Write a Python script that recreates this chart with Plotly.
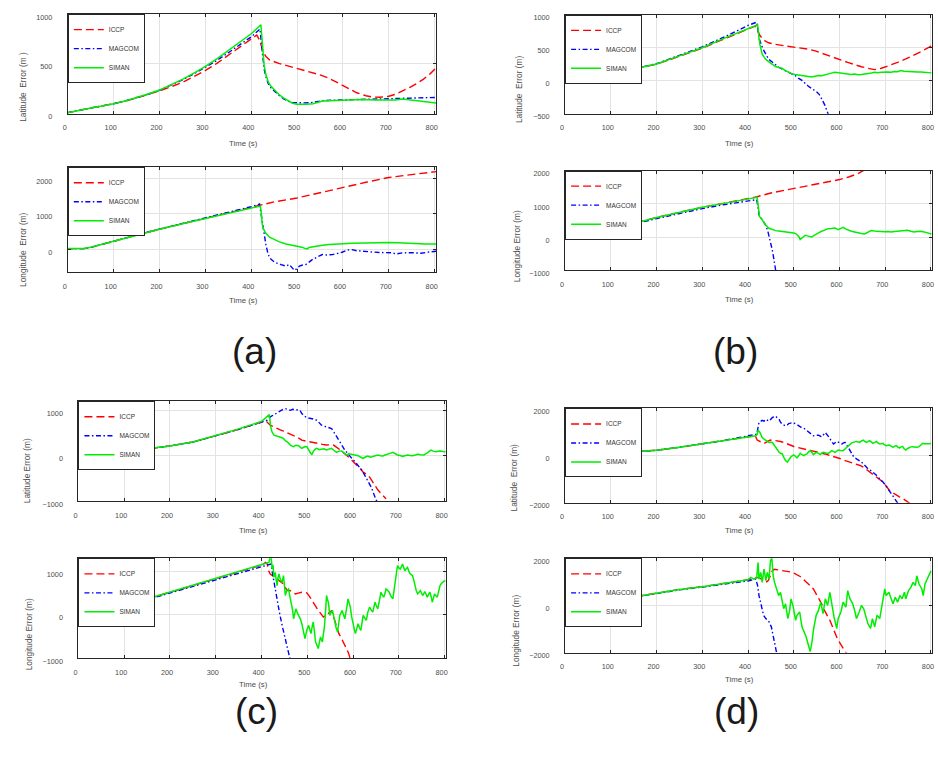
import plotly.graph_objects as go

W, H = 938, 763

# ---------------- data (time s, error m) ----------------
A_LAT_ICCP = [(0,10),(25,30),(50,57),(75,78),(100,99),(125,126),(150,157),(175,192),(200,230),(225,270),(250,315),(275,372),(300,434),(325,505),(350,585),(375,665),(400,743),(412,790),(418,740),(422,680),(426,620),(432,575),(440,540),(460,505),(480,480),(500,455),(525,425),(550,390),(570,355),(590,305),(610,255),(630,210),(650,180),(665,167),(680,165),(700,175),(715,195),(730,225),(745,262),(760,300),(775,345),(790,400),(803,460)]
A_LAT_MAGCOM = [(0,10),(25,30),(50,57),(75,78),(100,99),(125,128),(150,160),(175,195),(200,235),(225,285),(250,340),(275,400),(300,465),(325,535),(350,612),(375,690),(400,772),(419,850),(422,700),(425,560),(428,450),(432,370),(437,300),(443,260),(450,225),(460,185),(470,150),(480,125),(490,112),(500,108),(515,108),(530,110),(545,122),(555,130),(575,135),(600,138),(625,140),(650,145),(675,143),(700,146),(725,150),(750,155),(775,160),(803,163)]
A_LAT_SIMAN = [(0,10),(25,30),(50,57),(75,78),(100,99),(125,128),(150,160),(175,197),(200,237),(225,288),(250,345),(275,408),(300,474),(325,550),(350,636),(375,718),(400,803),(421,893),(423,760),(425,620),(428,490),(432,390),(437,320),(443,275),(450,240),(460,195),(470,158),(480,128),(490,105),(500,95),(510,93),(520,94),(535,100),(545,115),(555,127),(570,130),(600,135),(640,142),(670,138),(700,133),(715,138),(730,147),(745,138),(760,128),(780,122),(803,108)]

A_LON_ICCP = [(0,20),(15,15),(35,20),(50,55),(75,140),(100,240),(150,400),(200,565),(250,718),(300,870),(350,1020),(400,1167),(420,1240),(450,1330),(500,1440),(550,1590),(600,1740),(650,1880),(700,2015),(750,2100),(803,2180)]
A_LON_MAGCOM = [(0,20),(15,15),(35,20),(50,55),(75,140),(100,240),(150,405),(200,570),(250,725),(300,880),(350,1040),(400,1195),(418,1270),(422,900),(425,680),(428,400),(432,130),(436,-100),(440,-240),(447,-320),(454,-380),(465,-430),(476,-472),(483,-426),(488,-500),(494,-590),(500,-540),(505,-472),(512,-440),(519,-426),(526,-360),(533,-290),(545,-210),(555,-148),(565,-160),(577,-148),(590,-110),(598,-83),(610,-20),(620,-9),(630,-40),(641,-56),(663,-74),(680,-90),(692,-102),(705,-95),(717,-130),(730,-100),(750,-95),(770,-110),(785,-80),(803,-56)]
A_LON_SIMAN = [(0,20),(15,15),(35,20),(50,55),(75,140),(100,240),(150,400),(200,565),(250,715),(300,865),(350,1012),(400,1155),(420,1213),(422,1000),(424,700),(427,560),(432,450),(440,340),(447,290),(460,215),(476,150),(490,120),(500,100),(510,60),(518,20),(522,10),(526,50),(540,90),(555,115),(570,135),(585,150),(600,160),(620,167),(650,180),(680,192),(700,194),(720,185),(740,170),(760,155),(780,150),(803,148)]

B_LAT_ICCP = [(0,15),(50,55),(100,104),(150,179),(200,250),(250,372),(300,495),(350,640),(400,775),(416,830),(420,780),(425,700),(431,640),(438,600),(445,576),(460,551),(480,530),(496,516),(518,501),(535,475),(547,452),(560,418),(575,377),(590,345),(604,313),(618,278),(633,243),(648,212),(662,189),(677,169),(690,185),(698,204),(712,240),(727,278),(745,330),(763,387),(782,455),(801,526)]
B_LAT_MAGCOM = [(0,15),(50,55),(100,104),(150,182),(200,258),(250,385),(300,515),(350,670),(400,839),(419,889),(425,626),(430,530),(435,452),(445,328),(456,260),(467,204),(478,165),(489,129),(503,79),(510,40),(518,5),(532,-84),(540,-120),(550,-169),(556,-210),(561,-268),(568,-370),(575,-501),(585,-680)]
B_LAT_SIMAN = [(0,15),(50,55),(100,104),(150,179),(200,253),(250,377),(300,501),(350,650),(400,790),(421,849),(424,650),(426,551),(431,402),(438,328),(445,290),(453,253),(460,215),(467,200),(474,189),(482,154),(489,125),(496,104),(503,95),(510,89),(518,88),(525,80),(532,65),(539,55),(546,68),(554,79),(561,75),(568,92),(575,104),(582,115),(590,129),(597,120),(604,114),(612,105),(619,98),(626,94),(633,100),(641,90),(648,94),(655,100),(662,104),(670,118),(677,129),(684,122),(691,128),(698,125),(705,132),(713,130),(720,139),(727,136),(734,154),(741,145),(749,139),(756,142),(763,136),(770,134),(778,132),(785,125),(793,122),(801,119)]

B_LON_ICCP = [(0,30),(20,35),(45,50),(70,130),(100,228),(150,410),(200,594),(250,750),(300,901),(350,1025),(400,1149),(420,1218),(450,1330),(500,1465),(550,1590),(600,1733),(620,1810),(640,1910),(652,2000),(665,2090)]
B_LON_MAGCOM = [(0,30),(20,35),(45,50),(70,125),(100,220),(150,395),(200,560),(250,710),(300,860),(350,985),(400,1100),(419,1129),(422,900),(424,673),(431,525),(438,376),(443,200),(449,-119),(453,-380),(456,-614),(460,-990),(464,-1300)]
B_LON_SIMAN = [(0,30),(20,35),(45,50),(70,130),(100,228),(150,410),(200,594),(250,750),(300,901),(350,1025),(400,1149),(420,1198),(422,970),(425,624),(431,525),(438,376),(445,277),(453,230),(460,198),(467,190),(474,178),(482,175),(489,158),(495,145),(500,129),(504,110),(507,79),(511,20),(514,-69),(518,-30),(521,20),(525,59),(530,40),(535,20),(539,10),(543,40),(547,79),(554,130),(561,178),(568,220),(575,257),(582,265),(590,277),(594,250),(597,228),(602,260),(608,297),(613,250),(619,208),(626,180),(633,158),(640,130),(648,110),(655,99),(662,150),(669,198),(676,185),(684,170),(691,178),(698,165),(706,172),(713,158),(720,170),(727,182),(734,178),(741,190),(749,208),(756,180),(763,158),(770,170),(778,178),(785,160),(793,130),(801,99)]

C_LAT_ICCP = [(0,0),(50,40),(100,90),(150,150),(200,215),(250,300),(300,435),(350,580),(400,739),(410,760),(419,672),(427,630),(434,599),(441,570),(448,540),(456,500),(463,467),(470,440),(477,416),(483,380),(488,343),(497,320),(506,307),(515,290),(524,270),(533,250),(542,234),(550,238),(557,234),(562,200),(568,161),(573,120),(578,73),(584,25),(589,-22),(595,-75),(600,-131),(606,-185),(611,-241),(617,-300),(622,-365),(627,-400),(632,-423),(638,-500),(643,-584),(649,-670),(654,-752),(660,-820),(665,-870),(669,-898),(672,-950)]
C_LAT_MAGCOM = [(0,0),(50,40),(100,90),(150,150),(200,215),(250,300),(300,435),(350,580),(400,739),(412,780),(419,854),(425,890),(430,927),(436,960),(441,1000),(447,1020),(452,1036),(458,1010),(463,1000),(468,1022),(474,1010),(479,995),(484,1000),(488,927),(494,870),(499,832),(505,825),(510,818),(516,800),(521,781),(526,720),(531,672),(537,650),(542,635),(548,620),(553,599),(558,520),(564,416),(568,360),(571,307),(577,220),(582,124),(588,50),(593,-22),(599,-80),(604,-131),(609,-190),(614,-241),(620,-330),(625,-423),(631,-520),(636,-628),(640,-700),(643,-788),(647,-880),(650,-971),(655,-1060)]
C_LAT_SIMAN = [(0,0),(50,40),(100,90),(150,150),(200,215),(250,300),(300,440),(350,590),(400,755),(417,905),(420,635),(423,520),(427,453),(432,440),(438,416),(443,400),(448,380),(452,330),(456,307),(460,260),(463,234),(467,210),(470,197),(475,230),(481,219),(485,180),(488,161),(492,185),(495,200),(499,197),(503,120),(507,60),(510,29),(514,110),(518,150),(521,161),(526,130),(531,139),(536,150),(542,124),(547,140),(553,161),(558,120),(564,73),(569,100),(575,102),(580,60),(586,15),(591,40),(596,29),(603,10),(611,0),(616,-30),(622,-58),(627,-30),(632,-7),(638,-35),(643,-22),(648,-5),(654,15),(660,0),(665,-7),(670,15),(676,29),(681,50),(687,73),(692,40),(697,15),(703,5),(708,-15),(713,0),(719,15),(725,5),(730,0),(736,15),(741,29),(748,20),(755,15),(762,60),(770,124),(775,100),(781,88),(786,95),(791,102),(797,92),(802,88)]

C_LON_ICCP = [(0,23),(20,20),(40,25),(60,80),(100,207),(150,365),(200,520),(250,675),(300,832),(350,990),(400,1144),(409,1206),(412,1180),(416,1000),(419,939),(424,900),(430,850),(438,786),(443,760),(448,710),(452,630),(456,557),(460,560),(463,557),(468,520),(474,481),(480,500),(488,519),(494,515),(499,504),(505,420),(510,328),(517,210),(524,99),(530,20),(535,-53),(540,-10),(546,23),(550,60),(553,99),(557,-30),(560,-168),(565,-300),(569,-435),(574,-530),(578,-626),(582,-700),(586,-779),(590,-880),(593,-992),(598,-1080)]
C_LON_MAGCOM = [(0,23),(20,20),(40,25),(60,78),(100,200),(150,355),(200,510),(250,660),(300,815),(350,965),(400,1115),(415,1160),(421,1170),(424,950),(429,620),(434,366),(439,61),(445,-244),(451,-550),(458,-855),(461,-1008),(464,-1100)]
C_LON_SIMAN = [(0,23),(20,20),(40,25),(60,80),(100,207),(150,365),(200,520),(250,675),(300,832),(350,990),(400,1144),(416,1206),(419,1330),(421,1359),(423,1053),(425,1150),(427,863),(430,977),(432,800),(434,672),(436,850),(438,939),(441,820),(445,748),(448,901),(450,650),(452,443),(455,560),(459,595),(462,420),(465,290),(468,100),(470,-92),(473,60),(475,137),(478,50),(481,-15),(485,-100),(488,-206),(492,-380),(495,-550),(499,-350),(503,-244),(506,-360),(508,-435),(511,-250),(513,-168),(516,-420),(518,-626),(521,-700),(524,-779),(527,-600),(529,-511),(531,-580),(533,-626),(535,-450),(537,-321),(540,100),(542,443),(544,350),(546,290),(548,100),(549,-15),(552,60),(555,99),(558,-50),(560,-168),(563,-300),(566,-397),(569,-200),(571,-15),(574,50),(576,99),(579,0),(582,-92),(586,150),(589,366),(592,250),(594,176),(597,-50),(600,-244),(603,-350),(605,-435),(608,-300),(611,-206),(614,-300),(617,-359),(620,-150),(622,-15),(626,-80),(629,-130),(632,50),(636,176),(640,100),(643,61),(646,200),(648,290),(651,200),(654,137),(658,350),(661,519),(664,450),(667,405),(670,500),(672,595),(676,560),(679,519),(683,420),(687,366),(690,600),(692,786),(695,1000),(697,1130),(700,1080),(703,1053),(706,1120),(708,1168),(711,1080),(713,1015),(716,1060),(719,1092),(722,1000),(725,939),(728,920),(730,901),(733,780),(735,672),(738,560),(741,481),(744,520),(747,557),(750,490),(752,443),(755,500),(757,534),(760,460),(762,405),(765,470),(768,519),(771,400),(773,290),(776,400),(778,481),(781,440),(784,405),(787,540),(790,672),(793,720),(795,748),(798,770),(802,786)]

D_LAT_ICCP = [(0,0),(50,40),(100,95),(150,160),(200,225),(250,350),(300,490),(350,630),(400,769),(416,840),(420,657),(428,590),(435,517),(442,590),(449,657),(456,645),(464,629),(471,595),(478,559),(486,490),(493,420),(500,385),(507,350),(515,315),(522,280),(529,245),(536,210),(544,175),(551,140),(558,120),(565,98),(572,50),(579,0),(587,-35),(594,-70),(601,-125),(608,-182),(616,-230),(623,-280),(630,-315),(637,-350),(645,-420),(652,-490),(659,-590),(666,-699),(674,-790),(681,-881),(688,-1000),(695,-1119),(702,-1290),(709,-1469),(716,-1570),(724,-1678),(731,-1750),(738,-1818),(744,-1890),(749,-1958),(752,-2000),(756,-2060)]
D_LAT_MAGCOM = [(0,0),(50,40),(100,95),(150,160),(200,225),(250,355),(300,500),(350,650),(400,839),(419,909),(424,1399),(431,1497),(435,1460),(439,1538),(446,1468),(449,1550),(453,1608),(456,1640),(460,1678),(464,1600),(468,1538),(471,1420),(475,1329),(479,1290),(482,1259),(486,1300),(489,1357),(493,1380),(496,1399),(500,1370),(504,1357),(508,1300),(511,1259),(516,1200),(522,1161),(527,1080),(532,979),(538,900),(543,839),(548,860),(554,867),(558,830),(561,797),(565,880),(569,979),(574,860),(579,741),(583,600),(587,490),(590,540),(594,601),(600,540),(605,490),(608,530),(612,559),(616,450),(619,350),(623,200),(626,70),(630,-20),(634,-98),(638,-140),(641,-182),(647,-260),(652,-350),(657,-450),(662,-559),(668,-630),(673,-699),(679,-800),(684,-909),(690,-1010),(695,-1119),(700,-1240),(704,-1357),(709,-1480),(713,-1608),(718,-1750),(722,-1888),(727,-2000),(732,-2150)]
D_LAT_SIMAN = [(0,0),(50,40),(100,95),(150,160),(200,225),(250,350),(300,490),(350,630),(400,769),(406,797),(417,839),(420,900),(422,1077),(426,979),(431,769),(435,700),(439,657),(443,600),(446,559),(450,570),(453,559),(457,450),(460,350),(464,240),(468,140),(471,100),(475,70),(478,-70),(482,-210),(486,-280),(489,-170),(493,-70),(496,-20),(500,28),(504,-40),(507,-98),(511,0),(514,98),(518,40),(522,0),(525,40),(529,70),(532,150),(536,210),(540,120),(543,42),(547,100),(551,140),(554,90),(558,42),(561,100),(565,140),(570,110),(576,98),(580,160),(583,210),(587,170),(590,140),(594,190),(597,238),(602,220),(608,210),(612,280),(616,350),(619,420),(623,490),(626,530),(630,559),(634,580),(637,601),(641,580),(644,559),(648,620),(652,657),(655,600),(659,559),(663,600),(666,629),(670,570),(673,517),(677,560),(681,601),(684,540),(688,490),(691,500),(695,517),(698,460),(702,420),(706,440),(709,448),(713,400),(717,350),(720,390),(724,420),(727,370),(731,322),(734,360),(738,392),(741,300),(745,238),(749,300),(753,350),(756,370),(760,378),(763,360),(767,350),(771,365),(774,378),(778,450),(782,517),(785,500),(789,490),(795,505),(800,517)]

D_LON_ICCP = [(0,0),(50,60),(100,200),(150,370),(200,540),(250,680),(300,797),(350,945),(400,1091),(420,1189),(425,1170),(430,1120),(436,1050),(441,1000),(445,1080),(449,1300),(453,1468),(457,1538),(464,1520),(471,1497),(478,1480),(486,1468),(493,1420),(500,1371),(507,1300),(514,1231),(521,1110),(529,979),(536,840),(543,699),(547,560),(551,420),(556,250),(561,70),(566,-170),(572,-420),(576,-530),(579,-629),(583,-800),(587,-979),(591,-1200),(595,-1399),(599,-1540),(603,-1678),(607,-1790),(610,-1888),(614,-2000),(620,-2120)]
D_LON_MAGCOM = [(0,0),(50,60),(100,195),(150,360),(200,525),(250,660),(300,780),(350,910),(400,1040),(417,1119),(421,839),(424,420),(429,0),(434,-420),(439,-559),(446,-699),(451,-909),(455,-1329),(458,-1678),(461,-2000),(465,-2250)]
D_LON_SIMAN = [(0,0),(50,60),(100,200),(150,370),(200,540),(250,680),(300,797),(350,945),(400,1091),(406,1189),(413,1119),(419,1189),(422,1818),(424,1119),(428,1399),(431,979),(435,1538),(439,1049),(442,1399),(446,1119),(449,1888),(452,2028),(455,1259),(458,979),(462,769),(467,420),(471,559),(475,140),(478,-140),(482,70),(487,-559),(491,-210),(494,280),(499,-70),(504,-629),(507,-420),(513,-280),(518,-909),(523,-1119),(527,-1329),(532,-1678),(536,-1958),(540,-1538),(543,-1049),(549,-420),(554,-210),(559,140),(564,-350),(569,280),(574,0),(579,559),(583,0),(588,-490),(594,-979),(597,-559),(603,-280),(608,140),(614,-70),(618,629),(623,280),(629,70),(634,-280),(637,-559),(643,-280),(648,0),(653,-140),(657,-420),(662,-769),(668,-979),(672,-559),(677,-909),(682,-420),(688,-559),(693,0),(699,699),(702,420),(708,559),(713,280),(717,70),(722,350),(727,140),(732,420),(737,280),(742,559),(745,280),(751,629),(756,769),(761,979),(766,839),(769,1259),(774,909),(780,699),(783,420),(787,909),(792,1119),(800,1468)]

SERIES_NAMES = ["ICCP", "MAGCOM", "SIMAN"]
X_TICKS = [0, 100, 200, 300, 400, 500, 600, 700, 800]
PANEL_LABELS = ["(a)", "(b)", "(c)", "(d)"]

# ---------------- layout geometry (pixels) ----------------
# (data, y-range, y-ticks, left, right, top, bottom, ytitle, ytitle_x, ytitle_y, xtitle_y)
subplots = [
    ([A_LAT_ICCP, A_LAT_MAGCOM, A_LAT_SIMAN], [0, 1000], [0, 500, 1000], 63.3, 434.3, 13.3, 114.0, "Latitude  Error (m )", 18, 87, 144),
    ([A_LON_ICCP, A_LON_MAGCOM, A_LON_SIMAN], [-630, 2300], [0, 1000, 2000], 63.3, 434.3, 168.3, 274.0, "Longitude  Error (m)", 18, 252, 303),
    ([B_LAT_ICCP, B_LAT_MAGCOM, B_LAT_SIMAN], [-500, 1000], [-500, 0, 500, 1000], 564.3, 934.3, 14.0, 114.0, "Latitude  Error (m)", 518, 89, 144),
    ([B_LON_ICCP, B_LON_MAGCOM, B_LON_SIMAN], [-1000, 2000], [-1000, 0, 1000, 2000], 564.3, 934.3, 171.7, 272.7, "Longitude Error (m)", 516, 248, 302),
    ([C_LAT_ICCP, C_LAT_MAGCOM, C_LAT_SIMAN], [-1000, 1200], [-1000, 0, 1000], 74.0, 444.3, 405.0, 506.0, "Latitude Error (m)", 23, 475, 536),
    ([C_LON_ICCP, C_LON_MAGCOM, C_LON_SIMAN], [-1000, 1300], [-1000, 0, 1000], 74.0, 444.3, 564.0, 665.0, "Longitude Error (m)", 25, 641, 692),
    ([D_LAT_ICCP, D_LAT_MAGCOM, D_LAT_SIMAN], [-2000, 2000], [-2000, 0, 2000], 564.3, 934.3, 412.3, 507.7, "Latitude  Error (m)", 513, 482, 536),
    ([D_LON_ICCP, D_LON_MAGCOM, D_LON_SIMAN], [-2000, 2000], [-2000, 0, 2000], 564.3, 934.3, 564.0, 659.3, "Longitude Error (m)", 515, 637, 687),
]
label_pos = [(251, 355), (736, 355), (253, 719), (737, 719)]

styles = [
    dict(color="#ff0000", width=1.4, dash="8px,4px"),
    dict(color="#0000ff", width=1.4, dash="5px,2.5px,1.5px,2.5px"),
    dict(color="#00ee00", width=1.5, dash="solid"),
]

AXIS_COL = "#262626"
TXT_COL = "#4d4d4d"
FONT = "Liberation Sans, Arial, sans-serif"

fig = go.Figure()
layout = dict(
    width=W, height=H, autosize=False,
    margin=dict(l=0, r=0, t=0, b=0),
    paper_bgcolor="white", plot_bgcolor="white",
    font=dict(family=FONT, size=7.3, color=TXT_COL),
)
annotations = []

def px_x(p):
    return p / W

def px_y(p):
    return 1 - p / H

for i, (data, yr, yt, l, r, t, b, ytitle, ytx, yty, xty) in enumerate(subplots):
    k = i + 1
    xa = "x" if k == 1 else f"x{k}"
    ya = "y" if k == 1 else f"y{k}"
    lg = "legend" if k == 1 else f"legend{k}"
    for name, pts, st in zip(SERIES_NAMES, data, styles):
        fig.add_trace(go.Scatter(
            x=[p[0] for p in pts], y=[p[1] for p in pts],
            mode="lines", name=name, line=st,
            xaxis=xa, yaxis=ya, legend=lg, showlegend=True,
        ))
    xkey = "xaxis" if k == 1 else f"xaxis{k}"
    ykey = "yaxis" if k == 1 else f"yaxis{k}"
    common = dict(showline=True, linecolor=AXIS_COL, linewidth=1, mirror="ticks",
                  ticks="inside", ticklen=3, tickcolor=AXIS_COL, tickwidth=1,
                  showgrid=True, gridcolor="#e3e3e3", gridwidth=1, zeroline=False,
                  tickfont=dict(family=FONT, size=7.3, color=TXT_COL))
    layout[xkey] = dict(common, domain=[px_x(l), px_x(r)], range=[0, 803],
                        tickmode="array", tickvals=X_TICKS, anchor=ya,
                        ticklabelstandoff=7, ticklabelshift=-3)
    layout[ykey] = dict(common, domain=[px_y(b), px_y(t)], range=yr,
                        tickmode="array", tickvals=yt, anchor=xa,
                        ticklabelstandoff=13, ticklabelshift=3)
    layout[lg] = dict(x=px_x(l), y=px_y(t), xanchor="left", yanchor="top",
                      bgcolor="white", bordercolor=AXIS_COL, borderwidth=1,
                      font=dict(family=FONT, size=6.5, color="#333333"),
                      tracegroupgap=0)
    annotations.append(dict(text="Time (s)", x=px_x((l + r) / 2 - 9), y=px_y(xty),
                            xref="paper", yref="paper", showarrow=False,
                            xanchor="center", yanchor="middle",
                            font=dict(family=FONT, size=7.8, color=TXT_COL)))
    annotations.append(dict(text=ytitle, x=px_x(ytx), y=px_y(yty), textangle=-90,
                            xref="paper", yref="paper", showarrow=False,
                            xanchor="center", yanchor="middle",
                            font=dict(family=FONT, size=8.3, color=TXT_COL)))

for lab, (lx, ly) in zip(PANEL_LABELS, label_pos):
    annotations.append(dict(text=lab, x=px_x(lx), y=px_y(ly), xref="paper", yref="paper",
                            showarrow=False, xanchor="center", yanchor="middle",
                            font=dict(family=FONT, size=37, color="#1a1a1a")))

layout["annotations"] = annotations
fig.update_layout(**layout)
fig.write_html("out.html")
